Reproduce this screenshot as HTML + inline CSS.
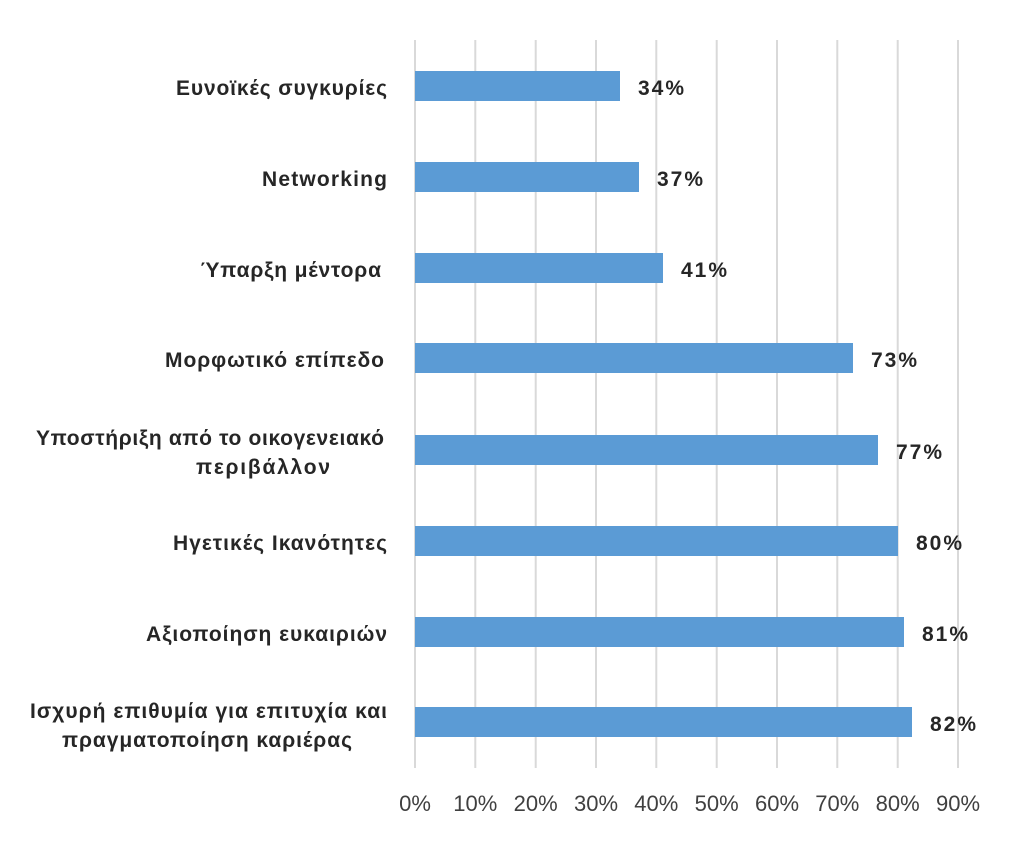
<!DOCTYPE html>
<html><head><meta charset="utf-8"><style>
body{margin:0;background:#fff;width:1024px;height:849px;overflow:hidden}
svg text{font-family:"Liberation Sans","DejaVu Sans",sans-serif}
</style></head><body>
<svg width="1024" height="849" xmlns="http://www.w3.org/2000/svg">
<g stroke="#d9d9d9" stroke-width="2">
<line x1="415" y1="40" x2="415" y2="768"/><line x1="475.3" y1="40" x2="475.3" y2="768"/>
<line x1="535.7" y1="40" x2="535.7" y2="768"/><line x1="596" y1="40" x2="596" y2="768"/>
<line x1="656.3" y1="40" x2="656.3" y2="768"/><line x1="716.7" y1="40" x2="716.7" y2="768"/>
<line x1="777" y1="40" x2="777" y2="768"/><line x1="837.3" y1="40" x2="837.3" y2="768"/>
<line x1="897.7" y1="40" x2="897.7" y2="768"/><line x1="958" y1="40" x2="958" y2="768"/>
</g>
<g fill="#5b9bd5">
<rect x="415" y="71" width="205" height="30"/>
<rect x="415" y="162" width="224" height="30"/>
<rect x="415" y="253" width="248" height="30"/>
<rect x="415" y="343" width="438" height="30"/>
<rect x="415" y="435" width="463" height="30"/>
<rect x="415" y="526" width="483" height="30"/>
<rect x="415" y="617" width="489" height="30"/>
<rect x="415" y="707" width="497" height="30"/>
</g>
<g font-size="21" font-weight="bold" fill="#262626" lengthAdjust="spacing">
<text x="638" y="95" textLength="46">34%</text><text x="657" y="186" textLength="46">37%</text><text x="681" y="277" textLength="46">41%</text>
<text x="871" y="367" textLength="46">73%</text><text x="896" y="459" textLength="46">77%</text><text x="916" y="550" textLength="46">80%</text>
<text x="922" y="641" textLength="46">81%</text><text x="930" y="731" textLength="46">82%</text>
</g>
<g font-size="21" font-weight="bold" fill="#262626">
<text x="176" y="95" textLength="211" lengthAdjust="spacing">Ευνοϊκές συγκυρίες</text>
<text x="262" y="186" textLength="125" lengthAdjust="spacing">Networking</text>
<text x="200" y="277" textLength="181" lengthAdjust="spacing">Ύπαρξη μέντορα</text>
<text x="165" y="367" textLength="219" lengthAdjust="spacing">Μορφωτικό επίπεδο</text>
<text x="36" y="445" textLength="348" lengthAdjust="spacing">Υποστήριξη από το οικογενειακό</text>
<text x="196" y="474" textLength="134" lengthAdjust="spacing">περιβάλλον</text>
<text x="173" y="550" textLength="214" lengthAdjust="spacing">Ηγετικές Ικανότητες</text>
<text x="146" y="641" textLength="241" lengthAdjust="spacing">Αξιοποίηση ευκαιριών</text>
<text x="30" y="718" textLength="357" lengthAdjust="spacing">Ισχυρή επιθυμία για επιτυχία και</text>
<text x="62" y="747" textLength="290" lengthAdjust="spacing">πραγματοποίηση καριέρας</text>
</g>
<g font-size="22" fill="#404040" text-anchor="middle">
<text x="415" y="811">0%</text><text x="475.3" y="811">10%</text><text x="535.7" y="811">20%</text>
<text x="596" y="811">30%</text><text x="656.3" y="811">40%</text><text x="716.7" y="811">50%</text>
<text x="777" y="811">60%</text><text x="837.3" y="811">70%</text><text x="897.7" y="811">80%</text>
<text x="958" y="811">90%</text>
</g>
</svg>
</body></html>
